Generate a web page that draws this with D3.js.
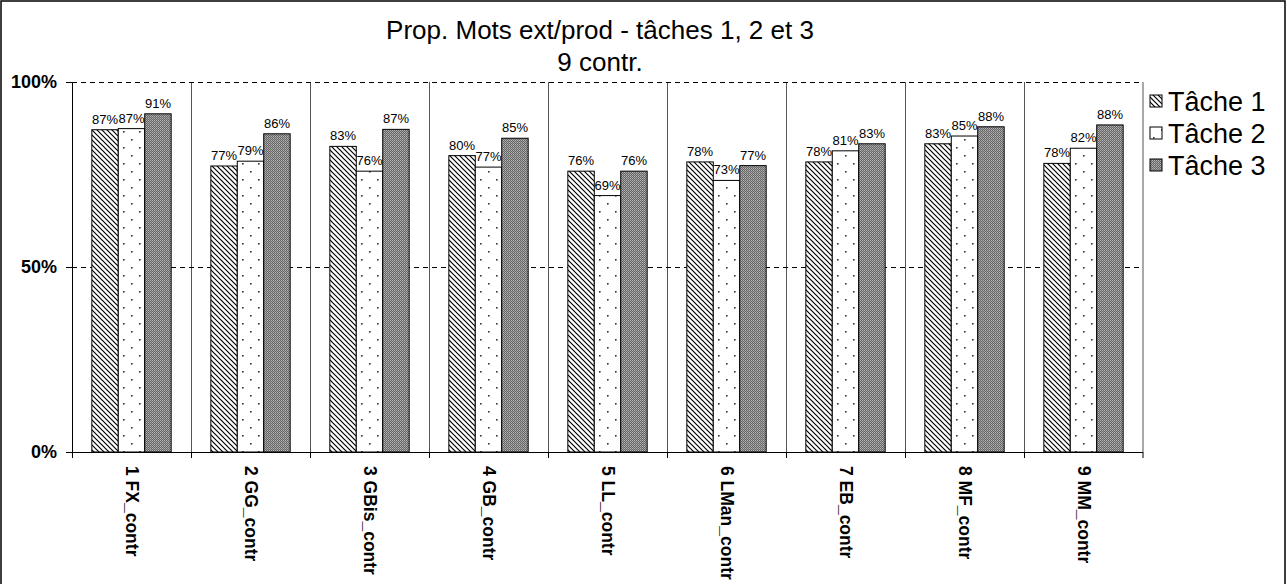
<!DOCTYPE html>
<html>
<head>
<meta charset="utf-8">
<script src="https://cdn.jsdelivr.net/npm/d3@7"></script>
<style>
  html, body { margin: 0; padding: 0; background: #fff; }
  svg { display: block; font-family: Arial, "Liberation Sans", Helvetica, sans-serif; }
</style>
</head>
<body>
<svg id="chart" width="1287" height="584"></svg>
<script>
const categories = ["1 FX_contr", "2 GG_contr", "3 GBis_contr", "4 GB_contr", "5 LL_contr", "6 LMan_contr", "7 EB_contr", "8 MF_contr", "9 MM_contr"];
const seriesNames = ["Tâche 1", "Tâche 2", "Tâche 3"];
const tache1 = [87.1, 77.3, 82.6, 80.1, 75.9, 78.4, 78.4, 83.3, 78.0];
const tache2 = [87.4, 78.6, 75.9, 77.0, 69.3, 73.4, 81.4, 85.4, 82.1];
const tache3 = [91.4, 86.0, 87.2, 84.8, 75.9, 77.4, 83.3, 87.9, 88.4];
const yTicks = [0, 50, 100];
const titleLines = ["Prop. Mots ext/prod - tâches 1, 2 et 3", "9 contr."];

const seriesValues = [tache1, tache2, tache3];
const rows = categories.map((c, i) => ({cat: c, vals: seriesValues.map((s, j) => ({series: j, value: s[i]}))}));

const svg = d3.select("#chart");
const W = 1287, H = 584;
const plot = {left: 72, right: 1143, top: 82, bottom: 452};

// patterns
const defs = svg.append("defs");
const p1 = defs.append("pattern").attr("id", "pat0").attr("patternUnits", "userSpaceOnUse").attr("width", 5).attr("height", 5);
p1.append("rect").attr("width", 5).attr("height", 5).attr("fill", "#fff");
p1.append("path").attr("d", "M-1,-1 L6,6 M-1,4 L1,6 M4,-1 L6,1").attr("stroke", "#000").attr("stroke-width", 1.2);

const p2 = defs.append("pattern").attr("id", "pat1").attr("patternUnits", "userSpaceOnUse").attr("width", 16).attr("height", 16);
p2.append("rect").attr("width", 16).attr("height", 16).attr("fill", "#fff");
p2.append("rect").attr("x", 3).attr("y", 3).attr("width", 1.6).attr("height", 1.6).attr("fill", "#333");
p2.append("rect").attr("x", 11).attr("y", 11).attr("width", 1.6).attr("height", 1.6).attr("fill", "#333");

const p3 = defs.append("pattern").attr("id", "pat2").attr("patternUnits", "userSpaceOnUse").attr("width", 2).attr("height", 2);
p3.append("rect").attr("width", 2).attr("height", 2).attr("fill", "#666");
p3.append("rect").attr("x", 0).attr("y", 0).attr("width", 1).attr("height", 1).attr("fill", "#b4b4b4");
p3.append("rect").attr("x", 1).attr("y", 1).attr("width", 1).attr("height", 1).attr("fill", "#9a9a9a");

// outer frame
svg.append("rect").attr("x", 1).attr("y", 1).attr("width", W - 3).attr("height", H + 10)
  .attr("fill", "none").attr("stroke", "#000").attr("stroke-width", 1.5);

const x = d3.scaleBand().domain(categories).range([plot.left, plot.right]).padding(0);
const bw = x.bandwidth();
const barW = bw / (3 + 1.5);
const xs = d3.scaleBand().domain([0, 1, 2]).range([barW * 0.75, bw - barW * 0.75]).padding(0);
const y = d3.scaleLinear().domain([0, 100]).range([plot.bottom, plot.top]);

// vertical gridlines (category boundaries)
svg.append("g").selectAll("line").data(categories.slice(1).concat(["__end"]))
  .join("line")
  .attr("x1", d => d === "__end" ? plot.right : x(d) + 0.5)
  .attr("x2", d => d === "__end" ? plot.right : x(d) + 0.5)
  .attr("y1", plot.top).attr("y2", plot.bottom)
  .attr("stroke", "#555").attr("stroke-width", 1);

// horizontal dashed gridlines
svg.append("g").selectAll("line").data(yTicks.filter(t => t > 0))
  .join("line")
  .attr("x1", plot.left).attr("x2", plot.right)
  .attr("y1", d => Math.round(y(d)) + 0.5).attr("y2", d => Math.round(y(d)) + 0.5)
  .attr("stroke", "#000").attr("stroke-width", 1).attr("stroke-dasharray", "5,4");

// bars
const g = svg.append("g").selectAll("g").data(rows).join("g")
  .attr("transform", d => `translate(${x(d.cat)},0)`);
g.selectAll("rect").data(d => d.vals).join("rect")
  .attr("x", d => xs(d.series))
  .attr("y", d => y(d.value))
  .attr("width", xs.bandwidth())
  .attr("height", d => y(0) - y(d.value))
  .attr("fill", d => `url(#pat${d.series})`)
  .attr("stroke", "#000").attr("stroke-width", 1);
g.selectAll("text").data(d => d.vals).join("text")
  .attr("x", d => xs(d.series) + xs.bandwidth() / 2)
  .attr("y", d => y(d.value) - 6)
  .attr("text-anchor", "middle")
  .attr("font-size", 13)
  .attr("fill", "#000")
  .text(d => Math.round(d.value) + "%");

// y axis
const yAxis = d3.axisLeft(y).tickValues(yTicks).tickFormat(d => d + "%").tickSize(6).tickPadding(9);
const ya = svg.append("g").attr("transform", `translate(${plot.left},0)`).call(yAxis);
ya.select(".domain").attr("stroke", "#000");
ya.selectAll("text").attr("font-size", 18).attr("font-weight", "bold").attr("fill", "#000")
  .attr("font-family", "Arial, 'Liberation Sans', sans-serif");

// x axis
const xAxis = d3.axisBottom(x).tickSize(0).tickFormat("");
const xa = svg.append("g").attr("transform", `translate(0,${plot.bottom})`).call(xAxis);
xa.select(".domain").attr("d", `M${plot.left - 6},0.5H${plot.right}`).attr("stroke", "#000");
xa.selectAll(".boundary").data(categories.concat(["__end"])).join("line")
  .attr("class", "boundary")
  .attr("x1", d => d === "__end" ? plot.right : x(d) + 0.5)
  .attr("x2", d => d === "__end" ? plot.right : x(d) + 0.5)
  .attr("y1", 0).attr("y2", 6).attr("stroke", "#000");
svg.append("g").selectAll("text").data(categories).join("text")
  .attr("transform", d => `translate(${x(d) + bw / 2 - 6},${plot.bottom + 14}) rotate(90)`)
  .attr("font-size", 17.5).attr("font-weight", "bold").attr("fill", "#000")
  .attr("text-anchor", "start")
  .text(d => d);

// title
svg.append("g").selectAll("text").data(titleLines).join("text")
  .attr("x", 600).attr("y", (d, i) => 39 + i * 32)
  .attr("text-anchor", "middle").attr("font-size", 26).attr("fill", "#000")
  .text(d => d);

// legend
const lg = svg.append("g").attr("transform", "translate(1150,0)");
const li = lg.selectAll("g").data(seriesNames).join("g")
  .attr("transform", (d, i) => `translate(0,${102 + i * 32})`);
li.append("rect").attr("x", 0).attr("y", -7).attr("width", 12).attr("height", 12)
  .attr("fill", (d, i) => `url(#pat${i})`).attr("stroke", "#000").attr("stroke-width", 1);
li.append("text").attr("x", 18).attr("y", 9).attr("font-size", 27).attr("fill", "#000").text(d => d);
</script>
</body>
</html>
